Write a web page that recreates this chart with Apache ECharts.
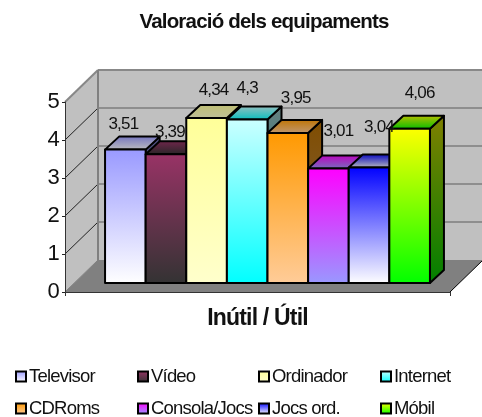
<!DOCTYPE html>
<html><head><meta charset="utf-8">
<style>html,body{margin:0;padding:0;background:#fff}#c{width:482px;height:417px}</style>
<script src="https://cdn.jsdelivr.net/npm/echarts@6/dist/echarts.min.js"></script>
</head><body><div id="c"></div>
<script>
const title = 'Valoració dels equipaments';
const axisName = 'Inútil / Útil';
const names = ['Televisor','Vídeo','Ordinador','Internet','CDRoms','Consola/Jocs','Jocs ord.','Móbil'];
const values = [3.51,3.39,4.34,4.3,3.95,3.01,3.04,4.06];
const yTicks = [0,1,2,3,4,5];

// styling, separate from the data
const topColors = [[153,153,255],[153,51,102],[255,255,153],[204,255,255],[255,153,0],[255,0,255],[0,0,255],[255,255,0]];
const botColors = [[255,255,255],[51,51,51],[255,255,204],[0,255,255],[255,204,153],[153,153,255],[255,255,255],[0,255,0]];
const labelNudgeX = [-2,4,7,0,8,10,10,10];
const labelNudgeY = [-12,-9,-15,-18,-22,-24,-27,-22];
const FONT = '"Liberation Sans",Arial,sans-serif';
const wallDX = 33, wallDY = 32, barDX = 14, barDY = 13, barShift = 9;

const rgb = (c,k) => `rgb(${Math.round(c[0]*k)},${Math.round(c[1]*k)},${Math.round(c[2]*k)})`;
const grad = (i,k) => ({type:'linear',x:0,y:0,x2:0,y2:1,colorStops:[{offset:0,color:rgb(topColors[i],k)},{offset:1,color:rgb(botColors[i],k)}]});

// tighter tracking, as in the reference's text
const nativeFill = CanvasRenderingContext2D.prototype.fillText;
CanvasRenderingContext2D.prototype.fillText = function(t,x,y,m){
  this.letterSpacing = '-0.8px';
  const r = m===undefined ? nativeFill.call(this,t,x,y) : nativeFill.call(this,t,x,y,m);
  this.letterSpacing = '0px';
  return r;
};

function frame(params, api){
  const cs = params.coordSys;
  const L=cs.x,R=cs.x+cs.width,B=cs.y+cs.height;
  const kids=[];
  const poly=(pts,fill)=>kids.push({type:'polygon',shape:{points:pts},style:{fill:fill,stroke:null}});
  const ln=(a,b,c,w)=>kids.push({type:'line',shape:{x1:a[0],y1:a[1],x2:b[0],y2:b[1]},style:{stroke:c,lineWidth:w}});
  const last=yTicks[yTicks.length-1];
  const T=api.coord([0,last])[1];
  poly([[L+wallDX,T-wallDY],[R+wallDX,T-wallDY],[R+wallDX,B-wallDY],[L+wallDX,B-wallDY]],'#c0c0c0');
  poly([[L,T],[L+wallDX,T-wallDY],[L+wallDX,B-wallDY],[L,B]],'#c0c0c0');
  poly([[L,B],[L+wallDX,B-wallDY],[R+wallDX,B-wallDY],[R,B]],'#808080');
  yTicks.forEach(t=>{
    const y=api.coord([0,t])[1];
    if(t>0){
      ln([L+wallDX,y-wallDY],[R+wallDX,y-wallDY],t===last?'#888':'#5c5c5c',t===last?2:1);
      ln([L,y],[L+wallDX,y-wallDY],t===last?'#888':'#222',t===last?2:1);
    }
  });
  ln([L+wallDX,T-wallDY],[L+wallDX,B-wallDY],'#808080',2);
  ln([L,B],[L+wallDX,B-wallDY],'#808080',1);
  ln([R,B],[R+wallDX,B-wallDY],'#000',1);
  return {type:'group',children:kids};
}

function bar(i){
  return function(params, api){
    const band=api.size([1,0])[0];
    const w=band/9.48;
    const base=api.coord([0,0]), top=api.coord([0,api.value(1)]);
    const x0=base[0]+barShift+1-4*w+i*w, x1=x0+w;
    const y0=base[1]-barShift, y1=top[1]-barShift;
    const st=(fill)=>({fill:fill,stroke:'#000',lineWidth:2,lineJoin:'round'});
    return {type:'group',children:[
      {type:'polygon',shape:{points:[[x1,y1],[x1+barDX,y1-barDY],[x1+barDX,y0-barDY],[x1,y0]]},style:st(grad(i,.5))},
      {type:'polygon',shape:{points:[[x0,y1],[x0+barDX,y1-barDY],[x1+barDX,y1-barDY],[x1,y1]]},style:st(grad(i,.75))},
      {type:'rect',shape:{x:x0,y:y1,width:w,height:y0-y1},style:st(grad(i,1))}
    ]};
  };
}

function labelItem(params, api){
  const i=params.dataIndex;
  const band=api.size([1,0])[0], w=band/9.48;
  const base=api.coord([0,0]), top=api.coord([0,api.value(1)]);
  const cx=base[0]+barShift+1-4*w+(i+.5)*w;
  return {type:'text',style:{
    text:String(api.value(1)).replace('.',','),
    x:cx+labelNudgeX[i], y:top[1]-barShift-barDY+labelNudgeY[i],
    textAlign:'center', textVerticalAlign:'middle',
    font:'17px '+FONT, fill:'#111'
  }};
}

const series=[{type:'custom',name:'_frame',silent:true,z:1,renderItem:frame,data:[[0,0]],clip:false}];
names.forEach((n,i)=>series.push({
  type:'custom',name:n,z:2,clip:false,renderItem:bar(i),
  itemStyle:{color:grad(i,1),borderColor:'#000',borderWidth:2},
  encode:{x:0,y:1},data:[[0,values[i]]]
}));
series.push({type:'custom',name:'_labels',silent:true,z:6,clip:false,renderItem:labelItem,
  data:values.map(v=>[0,v]),encode:{x:0,y:1}});

const legendEntry = i => ({name:names[i],itemStyle:{color:grad(i,1),borderColor:'#000',borderWidth:2,opacity:1}});
const legendCols=[15,137,258,380];
const legends=legendCols.map((x,c)=>({
  orient:'vertical',left:x,top:367,height:120,itemWidth:10,itemHeight:10,itemGap:13,padding:0,
  icon:'rect',selectedMode:false,
  textStyle:{fontFamily:FONT,fontSize:18.5,color:'#111',padding:[0,0,0,-2]},
  data:[legendEntry(c),legendEntry(c+4)]
}));

const chart=echarts.init(document.getElementById('c'),null,{renderer:'canvas'});
chart.setOption({
  animation:false,backgroundColor:'#fff',
  title:{text:title,left:264,top:12,textAlign:'center',padding:0,
    textStyle:{fontFamily:FONT,fontWeight:'bold',fontSize:20.5,color:'#111'}},
  legend:legends,
  grid:{left:65,top:102,width:385,height:190},
  xAxis:{type:'category',data:[axisName],z:3,
    name:axisName,nameLocation:'middle',nameGap:15,
    nameTextStyle:{fontFamily:FONT,fontWeight:'bold',fontSize:23,color:'#111'},
    axisLabel:{show:false},
    axisLine:{lineStyle:{color:'#333',width:1}},
    axisTick:{show:true,length:4,lineStyle:{color:'#333'}}},
  yAxis:{type:'value',min:0,max:5,interval:1,z:3,
    splitLine:{show:false},
    axisLine:{show:true,lineStyle:{color:'#333',width:1}},
    axisTick:{show:true,length:3,lineStyle:{color:'#222'}},
    axisLabel:{fontFamily:FONT,fontSize:22,color:'#111',margin:6,formatter:v=>String(v)}},
  series:series
});
</script></body></html>
